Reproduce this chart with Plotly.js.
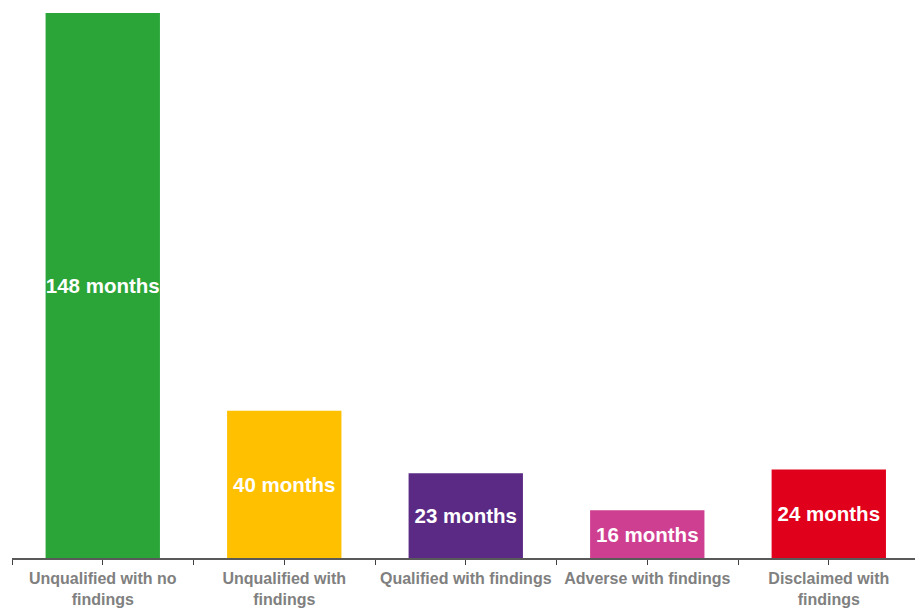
<!DOCTYPE html>
<html>
<head>
<meta charset="utf-8">
<script src="https://cdn.plot.ly/plotly-3.0.1.min.js"></script>
<style>html,body{margin:0;padding:0;background:#fff;}</style>
</head>
<body>
<div id="chart" style="width:915px;height:610px;"></div>
<script>
const categories = ["Unqualified with no<br>findings", "Unqualified with<br>findings", "Qualified with findings", "Adverse with findings", "Disclaimed with<br>findings"];
const months = [148, 40, 23, 13, 24];
const barLabels = ["148 months", "40 months", "23 months", "16 months", "24 months"];
const barColors = ["#2BA538", "#FFC000", "#5A2A85", "#CF3F91", "#E1001B"];
const positions = [0, 1, 2, 3, 4];
const boundaries = [-0.5, 0.5, 1.5, 2.5, 3.5, 4.5];

const fontFam = "'Liberation Sans', Arial, sans-serif";

const trace = {
  type: 'bar',
  x: positions,
  y: months,
  width: 0.63,
  text: barLabels,
  textposition: 'inside',
  insidetextanchor: 'middle',
  constraintext: 'none',
  textangle: 0,
  textfont: {family: fontFam, size: 20.5, color: '#ffffff', weight: 'bold'},
  marker: {color: barColors, line: {width: 0}},
  hoverinfo: 'skip'
};

const layout = {
  width: 915, height: 610,
  margin: {l: 12, r: 0, t: 13, b: 52, pad: 0},
  paper_bgcolor: '#ffffff', plot_bgcolor: '#ffffff',
  showlegend: false,
  xaxis: {
    type: 'linear',
    range: [-0.5, 4.475],
    tickvals: positions,
    ticktext: categories,
    tickangle: 0,
    ticks: 'outside', ticklen: 5, tickwidth: 1, tickcolor: '#404040',
    minor: {tickvals: boundaries, ticks: 'outside', ticklen: 5, tickwidth: 1, tickcolor: '#404040', showgrid: false},
    showline: true, linecolor: '#595959', linewidth: 1.5,
    showgrid: false, zeroline: false,
    tickfont: {family: fontFam, size: 16, color: '#808080', weight: 'bold'},
    fixedrange: true
  },
  yaxis: {
    range: [0, 148],
    visible: false,
    showgrid: false, zeroline: false,
    fixedrange: true
  }
};

Plotly.newPlot('chart', [trace], layout, {displayModeBar: false, staticPlot: true});
</script>
</body>
</html>
